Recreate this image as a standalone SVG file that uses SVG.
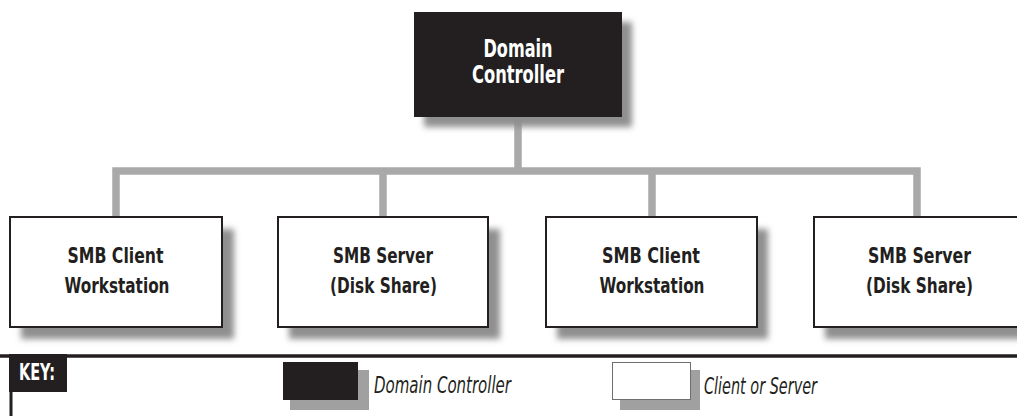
<svg xmlns="http://www.w3.org/2000/svg" width="1017" height="416" viewBox="0 0 1017 416">
  <defs>
    <filter id="blur" x="-20%" y="-20%" width="140%" height="140%">
      <feGaussianBlur stdDeviation="3"/>
    </filter>
  </defs>
  <style>
    .bg { fill: #ffffff; }
    .shadow { fill: #8f8f8f; filter: url(#blur); }
    .dc { fill: #231f20; }
    .box { fill: #ffffff; stroke: #231f20; stroke-width: 2; }
    .conn { fill: none; stroke: #a9a9a9; stroke-width: 7.5; stroke-linejoin: miter; stroke-linecap: butt; }
    .lbl { font-family: "Liberation Sans Narrow", "DejaVu Sans Condensed", "Liberation Sans", sans-serif; font-stretch: condensed; font-weight: bold; text-anchor: middle; }
    .dark { fill: #231f20; font-size: 22px; }
    .white { fill: #ffffff; font-size: 24px; }
    .key { font-family: "Liberation Sans Narrow", "DejaVu Sans Condensed", "Liberation Sans", sans-serif; font-stretch: condensed; font-style: italic; font-size: 23px; fill: #231f20; }
  </style>
  <rect class="bg" x="0" y="0" width="1017" height="416"/>

  <g id="connectors">
    <polyline class="conn" points="518,117 518,171"/>
    <polyline class="conn" points="116,217 116,171 917,171 917,217"/>
    <polyline class="conn" points="383,171 383,217"/>
    <polyline class="conn" points="652,171 652,217"/>
  </g>

  <g id="domain-controller">
    <rect class="shadow" x="424" y="22" width="208" height="105"/>
    <rect class="dc" x="414" y="12" width="208" height="105"/>
    <text class="lbl white" x="518" y="57" textLength="69" lengthAdjust="spacingAndGlyphs">Domain</text>
    <text class="lbl white" x="518" y="83" textLength="92" lengthAdjust="spacingAndGlyphs">Controller</text>
  </g>

  <g id="client-1">
    <rect class="shadow" x="21" y="229" width="213" height="110"/>
    <rect class="box" x="10" y="217" width="212" height="110"/>
    <text class="lbl dark" x="115.5" y="263" textLength="96" lengthAdjust="spacingAndGlyphs">SMB Client</text>
    <text class="lbl dark" x="117" y="293" textLength="105" lengthAdjust="spacingAndGlyphs">Workstation</text>
  </g>

  <g id="server-1">
    <rect class="shadow" x="289" y="229" width="211" height="110"/>
    <rect class="box" x="278" y="217" width="210" height="110"/>
    <text class="lbl dark" x="383" y="263" textLength="100" lengthAdjust="spacingAndGlyphs">SMB Server</text>
    <text class="lbl dark" x="383.5" y="293" textLength="107" lengthAdjust="spacingAndGlyphs">(Disk Share)</text>
  </g>

  <g id="client-2">
    <rect class="shadow" x="557" y="229" width="211" height="110"/>
    <rect class="box" x="546" y="217" width="211" height="110"/>
    <text class="lbl dark" x="651" y="263" textLength="98" lengthAdjust="spacingAndGlyphs">SMB Client</text>
    <text class="lbl dark" x="652" y="293" textLength="105" lengthAdjust="spacingAndGlyphs">Workstation</text>
  </g>

  <g id="server-2">
    <rect class="shadow" x="825" y="229" width="211" height="110"/>
    <rect class="box" x="814" y="217" width="211" height="110"/>
    <text class="lbl dark" x="919.5" y="263" textLength="103" lengthAdjust="spacingAndGlyphs">SMB Server</text>
    <text class="lbl dark" x="919.5" y="293" textLength="107" lengthAdjust="spacingAndGlyphs">(Disk Share)</text>
  </g>

  <g id="key">
    <line x1="0" y1="356" x2="1017" y2="356" stroke="#231f20" stroke-width="3.5"/>
    <rect x="9" y="354" width="58" height="38" fill="#231f20"/>
    <line x1="11" y1="356" x2="11" y2="416" stroke="#231f20" stroke-width="3"/>
    <text class="lbl" x="37" y="380" fill="#ffffff" font-size="23" textLength="36" lengthAdjust="spacingAndGlyphs">KEY:</text>

    <rect x="290" y="370" width="79" height="40" fill="#a0a0a0"/>
    <rect x="283" y="362" width="75" height="38" fill="#231f20"/>
    <text class="key" x="374" y="393" textLength="137" lengthAdjust="spacingAndGlyphs">Domain Controller</text>

    <rect x="620" y="370" width="80" height="40" fill="#a0a0a0"/>
    <rect x="612.5" y="362.5" width="78" height="37" fill="#ffffff" stroke="#6f6f6f" stroke-width="1"/>
    <text class="key" x="704" y="394" textLength="113" lengthAdjust="spacingAndGlyphs">Client or Server</text>
  </g>
</svg>
